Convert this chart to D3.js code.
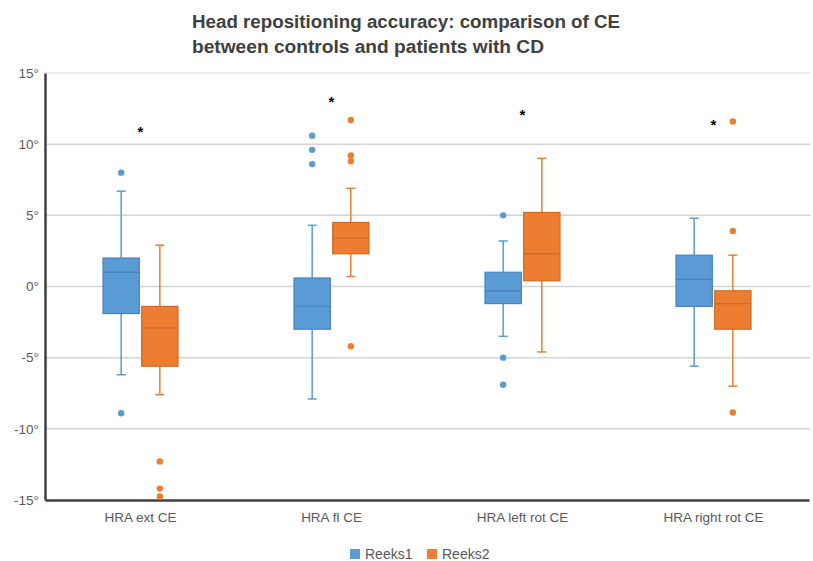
<!DOCTYPE html>
<html>
<head>
<meta charset="utf-8">
<script src="https://cdn.jsdelivr.net/npm/d3@7"></script>
<style>
  body { margin: 0; background: #fff; }
  svg { display: block; }
</style>
</head>
<body>
<svg id="chart" width="813" height="561"></svg>
<script>
const titleLines = ["Head repositioning accuracy:  comparison of CE", "between controls and patients with CD"];
const categories = ["HRA ext CE", "HRA fl CE", "HRA left rot CE", "HRA right rot CE"];
const seriesNames = ["Reeks1", "Reeks2"];
const yTicks = [-15, -10, -5, 0, 5, 10, 15];

// Reeks1 (blue) box stats per category
const reeks1Low = [-6.2, -7.9, -3.5, -5.6];
const reeks1Q1 = [-1.9, -3.0, -1.2, -1.4];
const reeks1Median = [1.0, -1.4, -0.3, 0.5];
const reeks1Q3 = [2.0, 0.6, 1.0, 2.2];
const reeks1High = [6.7, 4.3, 3.2, 4.8];
const reeks1Outliers = [[8.0, -8.9], [10.6, 9.6, 8.6], [5.0, -5.0, -6.9], []];

// Reeks2 (orange) box stats per category
const reeks2Low = [-7.6, 0.7, -4.6, -7.0];
const reeks2Q1 = [-5.6, 2.3, 0.4, -3.0];
const reeks2Median = [-2.9, 3.4, 2.3, -1.2];
const reeks2Q3 = [-1.4, 4.5, 5.2, -0.3];
const reeks2High = [2.9, 6.9, 9.0, 2.2];
const reeks2Outliers = [[-12.3, -14.2, -14.75], [11.7, 9.2, 8.8, -4.2], [], [11.6, 3.9, -8.85]];

// significance markers (height in degrees)
const starValues = [11.1, 13.2, 12.3, 11.6];

const colors = { Reeks1: "#5B9BD5", Reeks2: "#ED7D31" };
const edges = { Reeks1: "#4A84BC", Reeks2: "#D26A26" };

const build = (name, low, q1, med, q3, high, outl) =>
  categories.map((c, i) => ({
    series: name, category: c,
    low: low[i], q1: q1[i], median: med[i], q3: q3[i], high: high[i], outliers: outl[i]
  }));

const boxes = build("Reeks1", reeks1Low, reeks1Q1, reeks1Median, reeks1Q3, reeks1High, reeks1Outliers)
  .concat(build("Reeks2", reeks2Low, reeks2Q1, reeks2Median, reeks2Q3, reeks2High, reeks2Outliers));

const svg = d3.select("#chart");
const font = "'Liberation Sans', Arial, sans-serif";

const plot = { left: 45, right: 810, top: 73, bottom: 500 };

const x = d3.scaleBand()
    .domain(categories)
    .range([plot.left, plot.left + 4 * 191]);

const xs = d3.scaleBand()
    .domain(seriesNames)
    .range([58, 133])
    .paddingInner(0.06);

const y = d3.scaleLinear()
    .domain([-15, 15])
    .range([plot.bottom, plot.top]);

// title
svg.append("g")
  .selectAll("text")
  .data(titleLines)
  .join("text")
    .attr("x", 192)
    .attr("y", (d, i) => 28 + i * 25)
    .attr("font-family", font)
    .attr("font-weight", "bold")
    .attr("font-size", 18)
    .attr("fill", "#404040")
    .attr("textLength", (d, i) => i === 0 ? 428 : 352)
    .attr("lengthAdjust", "spacingAndGlyphs")
    .text(d => d);

// gridlines
svg.append("g")
  .selectAll("line")
  .data(yTicks.filter(d => d !== -15))
  .join("line")
    .attr("x1", plot.left)
    .attr("x2", plot.right)
    .attr("y1", d => y(d))
    .attr("y2", d => y(d))
    .attr("stroke", d => d === 15 ? "#e6e6e6" : "#d4d4d4")
    .attr("stroke-width", 1.5);

// y axis
const yAxis = svg.append("g")
    .attr("transform", `translate(${plot.left},0)`)
    .call(d3.axisLeft(y)
      .tickValues(yTicks)
      .tickSize(0)
      .tickPadding(6)
      .tickFormat(d => String(d).replace("\u2212", "-") + "°"));
yAxis.select(".domain")
    .attr("stroke", "#404040")
    .attr("stroke-width", 2.5);
yAxis.selectAll("text")
    .attr("font-family", font)
    .attr("font-size", 13.5)
    .attr("fill", "#595959");

// x axis
const xAxis = svg.append("g")
    .attr("transform", `translate(0,${plot.bottom})`)
    .call(d3.axisBottom(x).tickSize(0).tickPadding(12));
xAxis.select(".domain")
    .attr("stroke", "#404040")
    .attr("stroke-width", 2.5);
xAxis.selectAll("text")
    .attr("font-family", font)
    .attr("font-size", 13.5)
    .attr("fill", "#595959");

// boxes
const g = svg.append("g")
  .selectAll("g")
  .data(boxes)
  .join("g")
    .attr("transform", d => `translate(${x(d.category) + xs(d.series)},0)`);

const bw = xs.bandwidth();
const cap = 9;

g.append("line")
    .attr("x1", bw / 2).attr("x2", bw / 2)
    .attr("y1", d => y(d.high)).attr("y2", d => y(d.q3))
    .attr("stroke", d => colors[d.series]).attr("stroke-width", 1.5);
g.append("line")
    .attr("x1", bw / 2).attr("x2", bw / 2)
    .attr("y1", d => y(d.q1)).attr("y2", d => y(d.low))
    .attr("stroke", d => colors[d.series]).attr("stroke-width", 1.5);
g.append("line")
    .attr("x1", bw / 2 - cap / 2).attr("x2", bw / 2 + cap / 2)
    .attr("y1", d => y(d.high)).attr("y2", d => y(d.high))
    .attr("stroke", d => colors[d.series]).attr("stroke-width", 1.5);
g.append("line")
    .attr("x1", bw / 2 - cap / 2).attr("x2", bw / 2 + cap / 2)
    .attr("y1", d => y(d.low)).attr("y2", d => y(d.low))
    .attr("stroke", d => colors[d.series]).attr("stroke-width", 1.5);

g.append("rect")
    .attr("x", 0)
    .attr("width", bw)
    .attr("y", d => y(d.q3))
    .attr("height", d => y(d.q1) - y(d.q3))
    .attr("fill", d => colors[d.series])
    .attr("stroke", d => edges[d.series])
    .attr("stroke-width", 1.2);

g.append("line")
    .attr("x1", 0).attr("x2", bw)
    .attr("y1", d => y(d.median)).attr("y2", d => y(d.median))
    .attr("stroke", d => edges[d.series]).attr("stroke-width", 1.3);

g.selectAll("circle")
  .data(d => d.outliers.map(v => ({ v, series: d.series })))
  .join("circle")
    .attr("cx", bw / 2)
    .attr("cy", d => y(d.v))
    .attr("r", 3.2)
    .attr("fill", d => colors[d.series]);

// asterisks
svg.append("g")
  .selectAll("text")
  .data(categories)
  .join("text")
    .attr("x", d => x(d) + x.bandwidth() / 2)
    .attr("y", (d, i) => y(starValues[i]))
    .attr("dy", "0.55em")
    .attr("text-anchor", "middle")
    .attr("font-family", font)
    .attr("font-weight", "bold")
    .attr("font-size", 15)
    .attr("fill", "#000")
    .text("*");

// legend
const legend = svg.append("g")
  .selectAll("g")
  .data(seriesNames)
  .join("g")
    .attr("transform", (d, i) => `translate(${350 + i * 77},549)`);
legend.append("rect")
    .attr("width", 10)
    .attr("height", 10)
    .attr("fill", d => colors[d]);
legend.append("text")
    .attr("x", 15)
    .attr("y", 5)
    .attr("dy", "0.35em")
    .attr("font-family", font)
    .attr("font-size", 14)
    .attr("fill", "#595959")
    .text(d => d);
</script>
</body>
</html>
